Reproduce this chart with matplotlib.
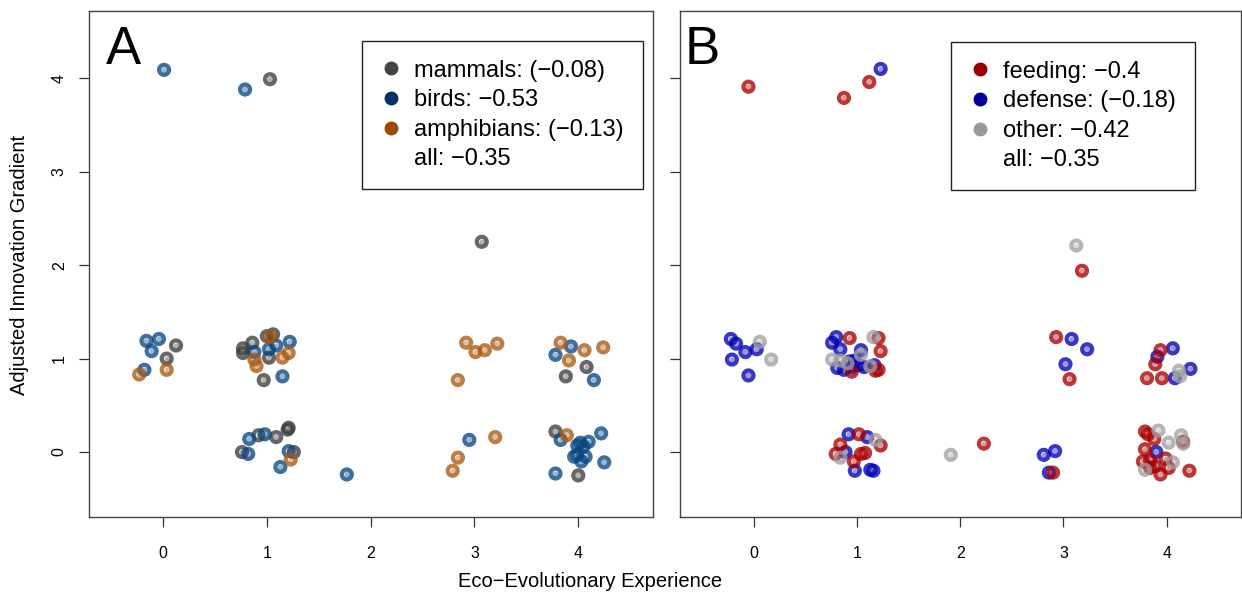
import matplotlib
matplotlib.use("Agg")
import matplotlib.pyplot as plt
from matplotlib.lines import Line2D

plt.rcParams['font.family'] = ['Liberation Sans', 'DejaVu Sans']

# panel A: innovation gradient by taxon
mammals_x = [1.03, 3.07, 0.125, 0.035, 0.77, 0.77, 0.86, 1.02, 1.06, 1.00, 0.97,
             0.92, 1.09, 1.21, 1.20, 0.76, 1.26, 4.08, 3.88, 3.78, 4.00]
mammals_y = [3.99, 2.25, 1.14, 1.00, 1.11, 1.06, 1.17, 1.01, 1.26, 1.24, 0.77,
             0.18, 0.16, 0.26, 0.24, 0.00, 0.00, 0.91, 0.81, 0.22, -0.25]

birds_x = [0.01, 0.79, -0.16, -0.04, -0.11, -0.18, 0.88, 1.02, 1.09, 1.22, 1.15,
           0.83, 0.98, 0.82, 1.21, 1.13, 1.77, 2.95, 3.93, 3.78, 4.15,
           3.83, 4.22, 4.02, 3.99, 4.10, 4.05, 3.99, 4.07, 4.03, 3.96, 4.25, 3.78]
birds_y = [4.09, 3.88, 1.19, 1.21, 1.08, 0.88, 1.07, 1.10, 1.14, 1.18, 0.81,
           0.14, 0.19, -0.02, 0.01, -0.16, -0.24, 0.13, 1.13, 1.04, 0.77,
           0.13, 0.20, 0.10, 0.07, 0.11, 0.06, -0.03, -0.05, -0.10, -0.05, -0.11, -0.23]

amphibians_x = [-0.23, 0.035, 0.88, 0.90, 1.03, 1.15, 1.21, 1.23, 2.92, 3.01, 3.10,
                3.22, 2.84, 3.20, 2.84, 2.79, 3.83, 4.06, 4.24, 3.91, 3.89]
amphibians_y = [0.83, 0.88, 0.99, 0.92, 1.23, 1.01, 1.06, -0.08, 1.17, 1.07, 1.09,
                1.16, 0.77, 0.16, -0.06, -0.20, 1.17, 1.09, 1.12, 0.98, 0.18]

# panel B: innovation gradient by context
feeding_x = [-0.05, 0.875, 1.12, 3.18, 0.93, 1.21, 1.23, 0.95, 1.21, 1.18,
             1.02, 1.23, 0.84, 0.795, 1.04, 1.08, 0.97, 2.23, 2.90, 2.93, 3.06,
             3.94, 3.89, 3.81, 3.955, 3.79, 3.82, 3.88, 4.16, 3.79, 3.77, 3.84,
             3.99, 3.89, 4.02, 3.94, 4.22, 3.84]
feeding_y = [3.91, 3.79, 3.96, 1.94, 1.22, 1.22, 1.08, 0.86, 0.88, 0.87,
             0.19, 0.07, 0.08, -0.02, -0.02, -0.01, -0.10, 0.09, -0.22, 1.23, 0.78,
             1.09, 0.94, 0.79, 0.79, 0.22, 0.19, 0.14, 0.11, 0.03, -0.10, -0.09,
             -0.07, -0.15, -0.17, -0.24, -0.20, -0.17]

defense_x = [1.23, -0.22, -0.17, -0.08, 0.03, -0.21, -0.05, 0.80, 0.76, 0.84, 1.04,
             0.81, 0.875, 0.955, 1.02, 1.07, 1.17, 0.98, 0.93, 0.92, 1.10, 0.89,
             0.98, 1.13, 1.16, 2.81, 2.92, 2.86, 3.08, 3.23, 3.02, 4.06, 3.91,
             4.08, 4.23, 3.90]
defense_y = [4.10, 1.21, 1.16, 1.07, 1.10, 0.99, 0.82, 1.23, 1.17, 1.10, 1.09,
             0.90, 0.88, 0.91, 0.93, 0.91, 0.93, 0.98, 0.97, 0.19, 0.16, 0.00,
             -0.20, -0.19, -0.20, -0.03, 0.01, -0.22, 1.21, 1.10, 0.94, 1.11, 1.02,
             0.79, 0.89, 0.00]

other_x = [3.125, 0.06, 0.17, 1.16, 1.04, 0.76, 0.84, 0.91, 1.13, 1.18,
           0.84, 1.91, 4.13, 4.12, 3.92, 4.02, 4.14, 4.16, 4.06, 3.79]
other_y = [2.21, 1.18, 0.99, 1.23, 1.04, 0.99, 0.98, 0.95, 0.92, 0.13,
           -0.06, -0.03, 0.81, 0.87, 0.23, 0.10, 0.18, 0.09, -0.11, -0.19]

labels_a = ['mammals: (\u22120.08)', 'birds: \u22120.53', 'amphibians: (\u22120.13)', 'all: \u22120.35']
labels_b = ['feeding: \u22120.4', 'defense: (\u22120.18)', 'other: \u22120.42', 'all: \u22120.35']
xticks = [0, 1, 2, 3, 4]
yticks = [0, 1, 2, 3, 4]


def ring_points(ax, x, y, color):
    # thick translucent ring with a paler centre
    ax.scatter(x, y, s=7.2 ** 2, facecolors='none', edgecolors=color,
               linewidths=3.0, alpha=0.78, zorder=3)
    ax.scatter(x, y, s=4.4 ** 2, c=color, alpha=0.4, linewidths=0, zorder=3)


def add_legend(ax, labels, colors, anchor):
    handles = [Line2D([], [], ls='', marker='o', markersize=9, color=c) for c in colors]
    handles.append(Line2D([], [], ls='', marker=''))
    leg = ax.legend(handles, labels, loc='upper right', bbox_to_anchor=anchor,
                    fontsize=17, frameon=True, fancybox=False, framealpha=1,
                    edgecolor='#222222', borderpad=0.8, labelspacing=0.32,
                    handlelength=0.8, handletextpad=0.6, borderaxespad=0)
    leg.get_frame().set_linewidth(1.0)


def style_axes(ax, show_ylabels):
    ax.set_xlim(-0.713, 4.72)
    ax.set_ylim(-0.695, 4.72)
    ax.set_xticks(xticks)
    ax.set_yticks(yticks)
    for s in ax.spines.values():
        s.set_color('#444444')
        s.set_linewidth(1.0)
    ax.tick_params(direction='out', length=7, width=0.9, color='#333333',
                   labelsize=11.5)
    ax.tick_params(axis='x', pad=14)
    ax.tick_params(axis='y', pad=9)
    if show_ylabels:
        for lab in ax.get_yticklabels():
            lab.set_rotation(90)
            lab.set_va('center')
    else:
        ax.set_yticklabels([])


fig = plt.figure(figsize=(12.42, 5.95), dpi=100)
ax_a = fig.add_axes([0.0717, 0.1311, 0.4541, 0.8504])
ax_b = fig.add_axes([0.5475, 0.1311, 0.4517, 0.8504])

ring_points(ax_a, mammals_x, mammals_y, '#3c3c3c')
ring_points(ax_a, birds_x, birds_y, '#084682')
ring_points(ax_a, amphibians_x, amphibians_y, '#a85a12')
style_axes(ax_a, True)
add_legend(ax_a, labels_a, ['#444444', '#003366', '#994c00'], (0.982, 0.941))
ax_a.text(0.03, 0.972, 'A', transform=ax_a.transAxes, fontsize=38, va='top', ha='left')

ring_points(ax_b, defense_x, defense_y, '#0000b4')
ring_points(ax_b, feeding_x, feeding_y, '#a80000')
ring_points(ax_b, other_x, other_y, '#a0a0a0')
style_axes(ax_b, False)
add_legend(ax_b, labels_b, ['#990000', '#000099', '#999999'], (0.918, 0.939))
ax_b.text(0.008, 0.972, 'B', transform=ax_b.transAxes, fontsize=38, va='top', ha='left')

fig.text(0.0155, 0.555, 'Adjusted Innovation Gradient', rotation=90,
         fontsize=14.5, ha='center', va='center')
fig.text(0.475, 0.022, 'Eco\u2212Evolutionary Experience', fontsize=14.5,
         ha='center', va='center')

fig.savefig('out.png', dpi=100)
